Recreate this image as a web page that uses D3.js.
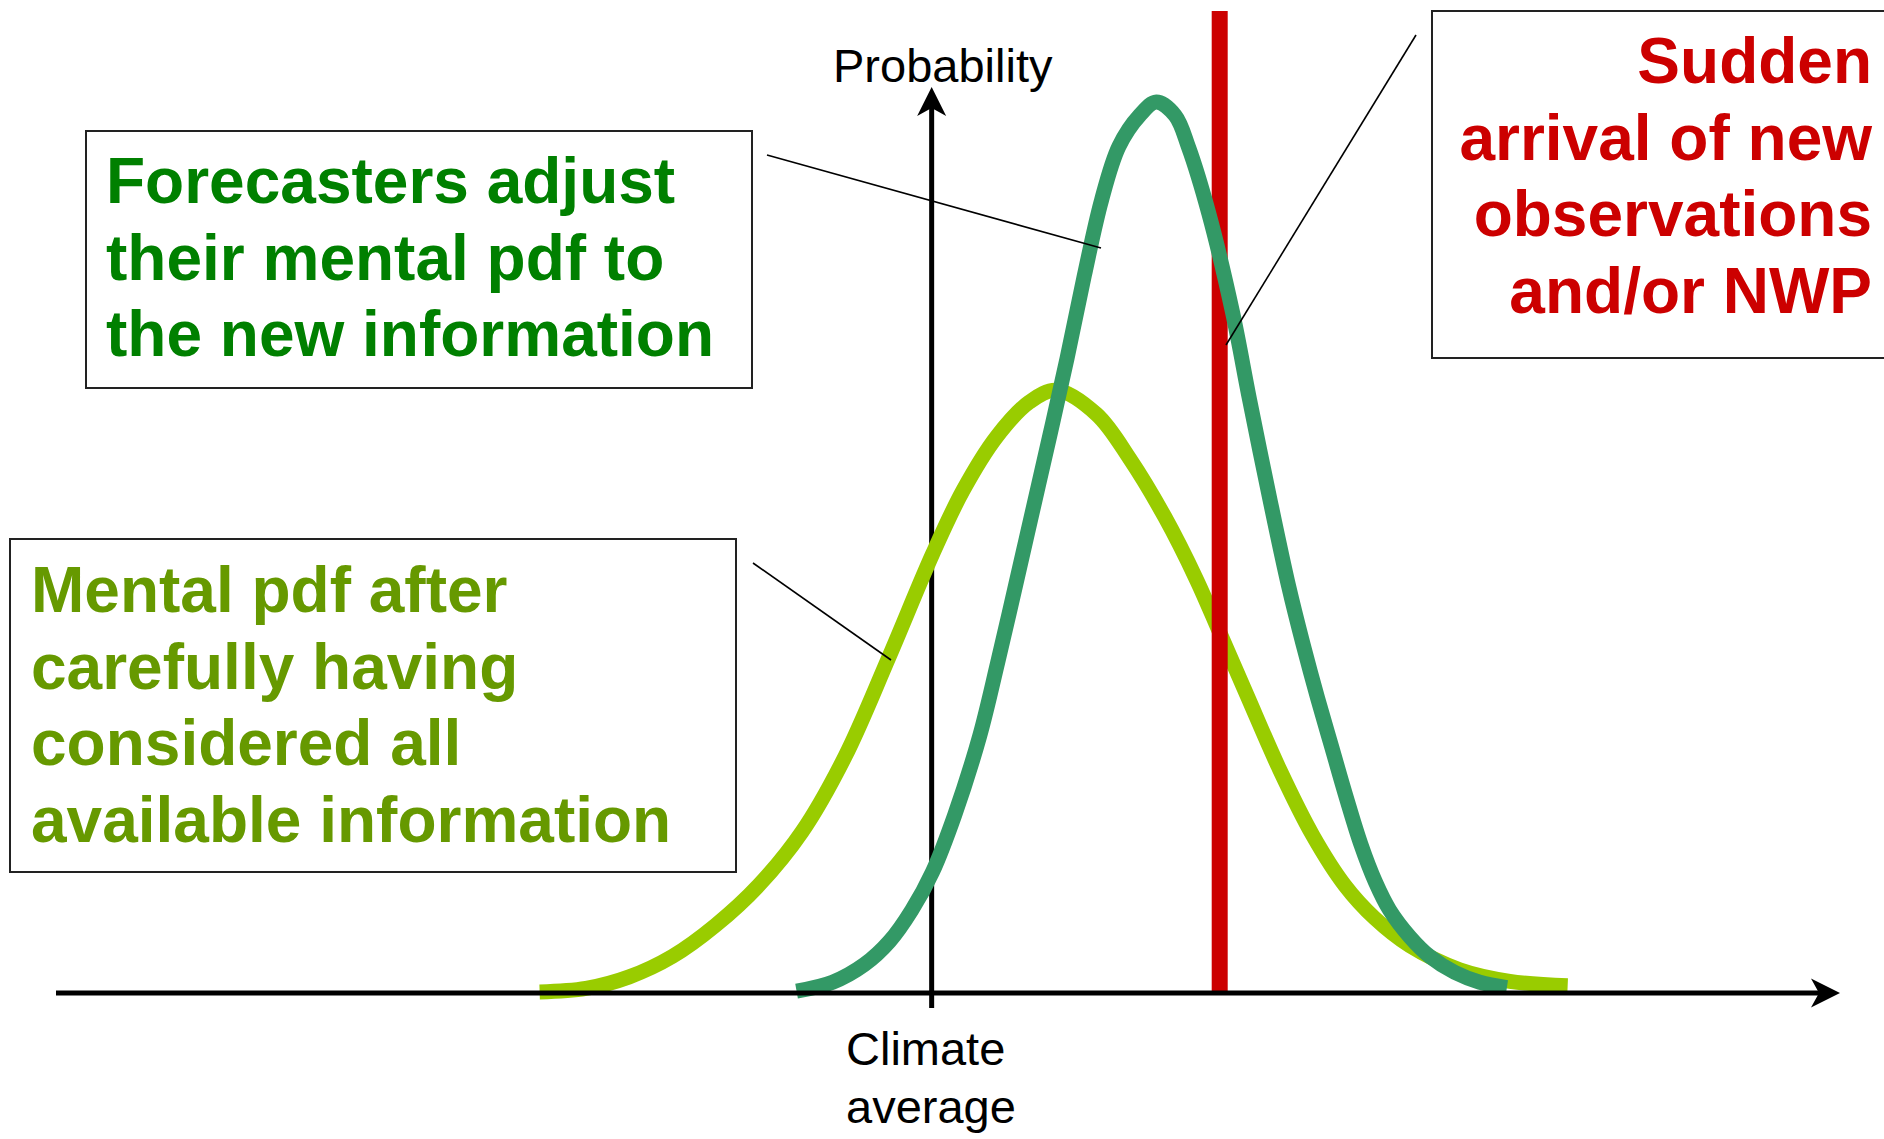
<!DOCTYPE html>
<html>
<head>
<meta charset="utf-8">
<script src="https://cdn.jsdelivr.net/npm/d3@7"></script>
<style>
  html, body { margin: 0; padding: 0; background: #fff; overflow: hidden; }
  text { font-family: "Liberation Sans", Arial, sans-serif; }
</style>
</head>
<body>
<div id="chart"></div>
<script>
// climate average = 0, new observation = 1 on the x scale; y = relative probability
var priorX = [-1.361, -1.20, -1.05, -0.90, -0.75, -0.60, -0.45, -0.30, -0.15, 0.003, 0.108, 0.226, 0.340, 0.434,
              0.573, 0.688, 0.809, 0.920, 1.000, 1.094, 1.208, 1.323, 1.434, 1.538, 1.660, 1.833, 2.007, 2.208];
var priorY = [0.000, 0.004, 0.017, 0.040, 0.075, 0.120, 0.180, 0.265, 0.375, 0.492, 0.563, 0.624, 0.663, 0.676,
              0.649, 0.599, 0.534, 0.463, 0.404, 0.334, 0.250, 0.176, 0.120, 0.083, 0.052, 0.025, 0.012, 0.007];

var postX = [-0.469, -0.344, -0.233, -0.146, -0.069, 0.003, 0.080, 0.167, 0.229, 0.290, 0.350, 0.410, 0.470,
             0.530, 0.590, 0.650, 0.722, 0.780, 0.845, 0.892, 0.962, 1.045, 1.104, 1.174, 1.240, 1.290,
             1.340, 1.390, 1.440, 1.490, 1.540, 1.590, 1.660, 1.729, 1.816, 1.903, 1.997];
var postY = [0.001, 0.011, 0.031, 0.057, 0.092, 0.135, 0.199, 0.288, 0.370, 0.455, 0.540, 0.625, 0.712,
             0.805, 0.890, 0.950, 0.985, 1.000, 0.985, 0.949, 0.875, 0.763, 0.665, 0.554, 0.455, 0.390,
             0.330, 0.274, 0.218, 0.166, 0.124, 0.092, 0.062, 0.040, 0.022, 0.011, 0.005];

var observationX = 1;

var yAxisLabel = "Probability";
var xAxisLabel = ["Climate", "average"];
var postLabel = ["Forecasters adjust", "their mental pdf to", "the new information"];
var priorLabel = ["Mental pdf after", "carefully having", "considered all", "available information"];
var obsLabel = ["Sudden", "arrival of new", "observations", "and/or NWP"];

var width = 1884, height = 1139;

var svg = d3.select("#chart").append("svg")
    .attr("width", width)
    .attr("height", height);

var xScale = d3.scaleLinear().domain([-3.04, 3.15]).range([56, 1839]);
var yScale = d3.scaleLinear().domain([0, 1]).range([992, 102]);

var line = d3.line()
    .x(function(d) { return xScale(d[0]); })
    .y(function(d) { return yScale(d[1]); })
    .curve(d3.curveCatmullRom.alpha(0.5));

var priorData = priorX.map(function(v, i) { return [v, priorY[i]]; });
var postData = postX.map(function(v, i) { return [v, postY[i]]; });

// y axis
svg.append("line")
    .attr("x1", xScale(0)).attr("x2", xScale(0))
    .attr("y1", 1008).attr("y2", 100)
    .style("stroke", "black").style("stroke-width", 5);
svg.append("path")
    .attr("d", "M0,0 L14.5,29 L0,21 L-14.5,29 Z")
    .attr("transform", "translate(" + xScale(0) + ",87)")
    .style("fill", "black");

// mental pdf (prior)
svg.append("path")
    .datum(priorData)
    .attr("d", line)
    .style("fill", "none")
    .style("stroke", "#99cc00")
    .style("stroke-width", 15);

// new observation
svg.append("line")
    .attr("x1", xScale(observationX)).attr("x2", xScale(observationX))
    .attr("y1", 11).attr("y2", yScale(0))
    .style("stroke", "#cc0000").style("stroke-width", 16);

// adjusted pdf
svg.append("path")
    .datum(postData)
    .attr("d", line)
    .style("fill", "none")
    .style("stroke", "#339966")
    .style("stroke-width", 15);

// x axis
svg.append("line")
    .attr("x1", xScale.range()[0]).attr("x2", 1828)
    .attr("y1", 993).attr("y2", 993)
    .style("stroke", "black").style("stroke-width", 5);
svg.append("path")
    .attr("d", "M0,0 L-29,-14.5 L-21,0 L-29,14.5 Z")
    .attr("transform", "translate(1840,993)")
    .style("fill", "black");

// axis labels
svg.append("text")
    .attr("x", 833).attr("y", 82)
    .style("font-size", "47px")
    .text(yAxisLabel);

svg.selectAll(".xlab")
    .data(xAxisLabel)
    .enter().append("text")
    .attr("class", "xlab")
    .attr("x", 846)
    .attr("y", function(d, i) { return 1065 + i * 58; })
    .style("font-size", "47px")
    .text(function(d) { return d; });

// callout lines
var callouts = [
    [767, 155, 1101, 248],
    [1416, 35, 1226, 345],
    [753, 563, 891, 660]
];
svg.selectAll(".callout")
    .data(callouts)
    .enter().append("line")
    .attr("class", "callout")
    .attr("x1", function(d) { return d[0]; })
    .attr("y1", function(d) { return d[1]; })
    .attr("x2", function(d) { return d[2]; })
    .attr("y2", function(d) { return d[3]; })
    .style("stroke", "black").style("stroke-width", 1.6);

function textBox(lines, box, color, tx, ty, anchor) {
    svg.append("rect")
        .attr("x", box[0]).attr("y", box[1])
        .attr("width", box[2]).attr("height", box[3])
        .style("fill", "white")
        .style("stroke", "#222")
        .style("stroke-width", 2);
    svg.selectAll(null)
        .data(lines)
        .enter().append("text")
        .attr("x", tx)
        .attr("y", function(d, i) { return ty + i * 76.7; })
        .attr("text-anchor", anchor)
        .style("font-size", "64px")
        .style("font-weight", "bold")
        .style("fill", color)
        .text(function(d) { return d; });
}

textBox(postLabel, [86, 131, 666, 257], "#008000", 106, 203, "start");
textBox(priorLabel, [10, 539, 726, 333], "#669900", 31, 612, "start");
textBox(obsLabel, [1432, 11, 480, 347], "#cc0000", 1872, 83, "end");
</script>
</body>
</html>
